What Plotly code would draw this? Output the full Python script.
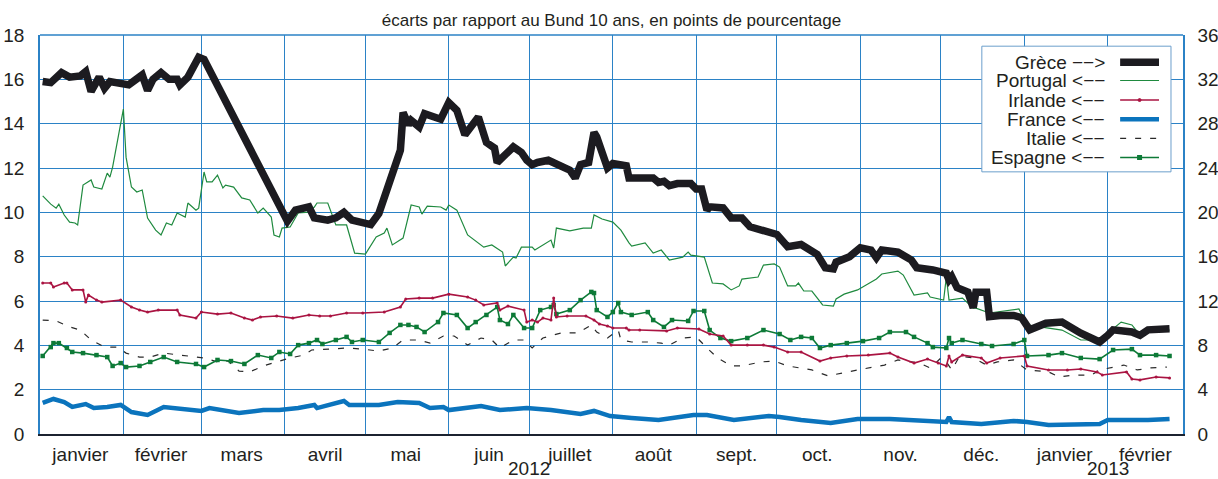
import pandas as pd
import plotly.graph_objects as go

# ---------------- data (days since 1 Jan 2012, spreads in percentage points) ----------------
START = pd.Timestamp("2012-01-01")

months = ["janvier", "février", "mars", "avril", "mai", "juin", "juillet", "août",
          "sept.", "oct.", "nov.", "déc.", "janvier", "février"]
month_mid = ["2012-01-16", "2012-02-15", "2012-03-16", "2012-04-16", "2012-05-16", "2012-06-16",
             "2012-07-16", "2012-08-16", "2012-09-16", "2012-10-16", "2012-11-16", "2012-12-16",
             "2013-01-16", "2013-02-15"]
years = ["2012", "2013"]
year_pos = ["2012-07-01", "2013-02-01"]

greece_day = [1, 4, 8, 11, 15, 17, 19, 22, 24, 26, 33, 38, 40, 42, 45, 48, 51, 52, 55, 59, 61,
              92, 95, 100, 102, 107, 110, 113, 116, 120, 123, 126, 128, 131, 134, 135, 137, 138, 141,
              143, 149, 152, 155, 158, 160, 163, 166, 169, 170, 172, 176, 179, 181, 183, 185, 189, 192,
              195, 197, 199, 201, 204, 206, 207, 209, 211, 213, 216, 218, 219, 224, 228, 230, 232, 234,
              237, 242, 244, 246, 248, 249, 254, 257, 261, 264, 269, 272, 274, 278, 283, 289, 292, 295,
              296, 301, 305, 309, 311, 313, 319, 324, 326, 332, 337, 338, 339, 341, 345, 347, 348, 352,
              353, 357, 362, 365, 368, 374, 380, 387, 394, 397, 399, 406, 409, 412, 420]
greece_val = [31.8, 31.7, 32.6, 32.2, 32.3, 32.7, 30.9, 32.2, 31.2, 31.8, 31.5, 32.4, 31.0, 32.0, 32.6,
              32.0, 32.0, 31.5, 32.2, 34.0, 33.8,
              19.2, 20.2, 20.5, 19.5, 19.3, 19.5, 20.0, 19.3, 19.0, 18.9, 19.9, 21.4, 23.2, 25.6, 29.0,
              27.9, 28.3, 27.7, 28.9, 28.4, 29.9, 29.2, 27.0, 27.7, 28.6, 26.3, 25.8, 24.5, 25.0, 25.9,
              25.4, 24.7, 24.3, 24.5, 24.7, 24.3, 23.9, 23.8, 23.1, 24.3, 24.5, 27.2, 26.8, 25.3, 24.0,
              24.4, 24.3, 24.2, 23.1, 23.1, 23.1, 22.7, 22.8, 22.4, 22.6, 22.6, 22.1, 22.1, 20.2, 20.5,
              20.4, 19.5, 19.5, 18.7, 18.4, 18.2, 18.0, 16.9, 17.1, 16.2, 15.0, 14.9, 15.5, 16.0, 16.8,
              16.6, 15.9, 16.6, 16.4, 15.7, 15.0, 14.8, 14.5, 13.9, 14.2, 13.2, 12.8, 11.4, 12.8, 12.8,
              10.6, 10.7, 10.7, 10.5, 9.4, 10.0, 10.1, 9.1, 8.3, 8.9, 9.4, 9.2, 8.9, 9.4, 9.5]

portugal_day = [1, 4, 6, 7, 9, 11, 13, 14, 16, 19, 20, 23, 25, 26, 27, 31, 32, 34, 36, 38, 40, 43, 45,
                47, 49, 51, 54, 55, 58, 59,
                61, 62, 64, 66, 68, 69, 72, 75, 78, 81, 83, 86, 87, 89, 90, 93, 96, 100, 102, 103, 107,
                109, 110, 114, 117, 121, 125, 128, 129, 131, 135, 138, 141, 142, 144, 149, 151, 152, 155,
                159, 160, 165, 168, 172, 173, 176, 177, 179, 183, 184, 190, 191, 192, 197, 202, 205, 206,
                209, 213, 216, 219, 220, 225, 228, 231, 234, 239, 241, 242, 247, 250, 254, 257, 260, 261,
                267, 269, 273, 275, 278, 281, 282, 284, 287, 291, 295, 296, 299, 304, 309, 311, 313, 319,
                321, 325, 330, 331, 336, 337, 338, 343, 347, 348, 353, 360, 364, 367, 375, 380, 387, 394,
                402, 406, 409, 414, 420]
portugal_val = [10.74, 10.37, 10.19, 10.37, 9.88, 9.56, 9.52, 9.43, 11.23, 11.46, 11.14, 11.05, 11.77,
                11.59, 12.04, 14.66, 12.49, 11.14, 10.92, 11.01, 9.74, 9.20, 8.98, 9.52, 9.43, 9.97,
                9.79, 10.42, 10.10, 10.19,
                11.82, 11.37, 11.37, 11.68, 11.10, 11.23, 11.14, 10.65, 10.56, 9.97, 10.19, 9.79, 8.98,
                8.89, 9.29, 9.34, 9.97, 10.01, 10.24, 10.42, 10.42, 9.79, 9.43, 9.43, 8.16, 8.12, 8.89,
                9.07, 9.29, 8.53, 8.84, 10.33, 10.24, 9.92, 10.28, 10.24, 10.10, 10.33, 10.10, 8.98, 8.89,
                8.43, 8.53, 8.21, 7.58, 7.98, 7.94, 8.43, 8.43, 8.30, 8.75, 8.39, 9.29, 9.16, 9.29, 9.29,
                9.88, 9.70, 9.56, 9.20, 8.62, 8.48, 8.62, 8.16, 8.30, 7.85, 7.98, 8.21, 8.07, 7.98, 6.81,
                6.77, 6.50, 6.68, 6.99, 7.08, 7.62, 7.67, 7.53, 6.68, 6.68, 6.81, 6.45, 6.45, 5.82, 5.77,
                6.09, 6.31, 6.50, 6.86, 6.99, 7.22, 7.35, 7.17, 6.27, 6.36, 6.18, 6.04, 7.08, 6.04, 6.13,
                5.68, 5.68, 5.46, 5.59, 5.64, 4.92, 4.78, 4.69, 4.24, 4.24, 5.05, 4.92, 4.47, 4.69, 4.69]

irlande_day = [1, 4, 5, 9, 10, 12, 16, 17, 18, 21, 23, 30, 34, 37, 40, 44, 51, 52, 58, 60, 66, 71, 76,
               79, 82, 88, 94, 100, 104, 108, 114, 120, 128, 134, 136, 141, 146, 152, 159, 162, 165, 170,
               171, 174, 180, 181, 183, 185, 187, 190, 191, 192, 196, 203, 206, 208, 211, 213, 218, 219,
               223, 233, 237, 245, 249, 254, 257, 263, 269, 273, 278, 283, 290, 294, 300, 308, 316, 319,
               325, 330, 334, 337, 338, 339, 343, 350, 352, 357, 366, 367, 375, 382, 387, 393, 395, 404,
               406, 409, 415, 420]
irlande_val = [6.81, 6.81, 6.63, 6.81, 6.81, 6.50, 6.50, 5.95, 6.27, 6.04, 5.95, 6.04, 5.73, 5.59, 5.50,
               5.59, 5.59, 5.37, 5.23, 5.50, 5.41, 5.46, 5.23, 5.14, 5.28, 5.32, 5.23, 5.37, 5.32, 5.32,
               5.46, 5.46, 5.50, 5.73, 6.09, 6.13, 6.13, 6.31, 6.18, 6.04, 5.82, 5.91, 5.59, 5.77, 5.59,
               5.05, 5.14, 5.05, 5.23, 5.14, 6.13, 5.28, 5.32, 5.32, 5.14, 4.96, 4.87, 4.78, 4.78, 4.69,
               4.69, 4.65, 4.78, 4.74, 4.51, 4.42, 4.01, 4.01, 4.01, 3.92, 3.70, 3.70, 3.29, 3.43, 3.52,
               3.56, 3.65, 3.47, 3.20, 3.38, 3.20, 3.07, 3.52, 3.25, 3.56, 3.43, 3.20, 3.43, 3.52, 3.07,
               2.89, 2.89, 2.93, 2.80, 2.66, 2.80, 2.48, 2.44, 2.57, 2.53]

france_day = [1, 5, 9, 12, 17, 20, 25, 30, 34, 40, 46, 52, 60, 63, 74, 83, 89, 96, 102, 103, 108, 113,
              115, 120, 126, 133, 141, 145, 150, 152, 164, 171, 181, 190, 201, 206, 212, 220, 230, 243,
              248, 258, 271, 275, 283, 294, 304, 316, 331, 337, 338, 339, 350, 362, 367, 375, 394, 397,
              412, 420]
france_val = [1.40, 1.58, 1.44, 1.22, 1.35, 1.17, 1.22, 1.31, 0.99, 0.86, 1.22, 1.13, 1.04, 1.17, 0.95,
              1.08, 1.08, 1.17, 1.31, 1.17, 1.31, 1.49, 1.31, 1.31, 1.31, 1.44, 1.40, 1.17, 1.22, 1.08,
              1.26, 1.08, 1.17, 1.08, 0.90, 1.04, 0.81, 0.72, 0.63, 0.86, 0.86, 0.63, 0.81, 0.77, 0.63,
              0.50, 0.68, 0.68, 0.59, 0.54, 0.77, 0.54, 0.45, 0.59, 0.54, 0.41, 0.45, 0.63, 0.63, 0.68]

italie_day = [1, 6, 11, 15, 19, 24, 29, 32, 37, 41, 46, 56, 61, 66, 70, 74, 78, 83, 88, 93, 98, 101, 108,
              114, 120, 126, 131, 135, 141, 145, 150, 154, 159, 164, 168, 171, 176, 180, 183, 187, 191,
              194, 200, 205, 207, 211, 215, 216, 220, 226, 231, 234, 239, 244, 248, 252, 257, 261, 268,
              273, 278, 283, 287, 293, 298, 304, 310, 314, 319, 322, 327, 331, 335, 337, 339, 342, 347,
              352, 356, 362, 367, 375, 379, 384, 391, 394, 399, 403, 408, 413, 419]
italie_val = [5.14, 5.10, 4.83, 4.69, 4.24, 3.92, 3.92, 3.65, 3.47, 3.47, 3.65, 3.52, 3.43, 3.25, 3.29,
              2.84, 2.80, 3.07, 3.25, 3.43, 3.56, 3.79, 3.83, 3.88, 3.83, 3.74, 3.88, 4.24, 4.24, 4.10,
              4.42, 4.42, 4.01, 4.33, 4.24, 3.88, 4.24, 4.24, 3.88, 4.33, 4.47, 4.56, 4.56, 4.92, 4.60,
              4.33, 4.69, 4.24, 4.15, 4.15, 4.10, 4.01, 4.33, 4.38, 3.88, 3.43, 3.07, 3.07, 3.25, 3.29,
              3.07, 2.98, 2.89, 2.62, 2.75, 2.89, 3.02, 3.11, 3.34, 3.29, 3.20, 2.98, 3.43, 3.25, 2.89,
              3.52, 3.43, 3.11, 3.25, 3.34, 2.89, 2.80, 2.57, 2.66, 2.66, 2.89, 3.02, 3.11, 2.89, 2.98,
              3.02]

espagne_day = [1, 4, 5, 7, 10, 12, 16, 21, 25, 27, 30, 32, 37, 41, 46, 51, 58, 61, 66, 71, 76, 81, 86,
               89, 93, 96, 100, 103, 105, 110, 114, 116, 120, 126, 130, 134, 137, 140, 143, 148, 150, 155,
               159, 162, 166, 170, 171, 174, 176, 180, 183, 186, 190, 191, 192, 197, 201, 205, 206, 207,
               211, 213, 215, 216, 220, 226, 228, 232, 235, 241, 243, 247, 249, 253, 257, 263, 269, 275,
               279, 283, 287, 290, 294, 300, 306, 312, 316, 322, 325, 330, 332, 337, 338, 339, 343, 350,
               354, 362, 366, 367, 375, 380, 387, 394, 399, 406, 409, 415, 420]
espagne_val = [3.52, 3.92, 4.10, 4.10, 3.88, 3.70, 3.65, 3.56, 3.47, 3.07, 3.20, 3.02, 3.07, 3.25, 3.47,
               3.25, 3.16, 3.02, 3.34, 3.29, 3.16, 3.56, 3.43, 3.70, 3.61, 4.01, 4.10, 4.24, 4.06, 4.24,
               4.38, 4.15, 4.24, 4.15, 4.56, 4.92, 4.92, 4.83, 4.60, 5.05, 5.46, 5.37, 4.78, 5.05, 5.37,
               5.73, 5.14, 4.96, 5.37, 4.78, 4.78, 5.59, 5.73, 5.82, 5.41, 5.59, 6.04, 6.41, 6.36, 5.59,
               5.28, 5.50, 5.91, 5.50, 5.37, 5.50, 5.14, 4.83, 5.14, 5.10, 5.55, 5.55, 4.69, 4.33, 4.19,
               4.33, 4.69, 4.51, 4.24, 4.38, 4.33, 3.88, 4.01, 4.10, 4.19, 4.33, 4.60, 4.60, 4.38, 4.10,
               3.92, 3.88, 4.33, 4.10, 4.24, 4.06, 3.97, 4.06, 4.24, 3.52, 3.56, 3.65, 3.43, 3.38, 3.79,
               3.83, 3.56, 3.56, 3.52]

legend_labels = ["Grèce \u2212\u2212>", "Portugal <\u2212\u2212", "Irlande <\u2212\u2212",
                 "France <\u2212\u2212", "Italie <\u2212\u2212", "Espagne <\u2212\u2212"]


def to_dates(days):
    return [START + pd.Timedelta(days=int(d)) for d in days]


# ---------------- styles ----------------
FONT = "Liberation Sans, Arial, sans-serif"
TXT = "#231f20"
GRID = "#2b82c6"
C_GRE = "#1c1b20"
C_POR = "#1f8a3f"
C_IRL = "#aa1442"
C_FRA = "#0b74bd"
C_ITA = "#2a2a2a"
C_ESP = "#0d7a37"
FS = 19

fig = go.Figure()

fig.add_trace(go.Scatter(x=to_dates(portugal_day), y=portugal_val, mode="lines",
                         line=dict(color=C_POR, width=1.2), name="Portugal"))
fig.add_trace(go.Scatter(x=to_dates(italie_day), y=italie_val, mode="lines",
                         line=dict(color=C_ITA, width=1.2, dash="6px,9px"), name="Italie"))
fig.add_trace(go.Scatter(x=to_dates(espagne_day), y=espagne_val, mode="lines+markers",
                         line=dict(color=C_ESP, width=1.6),
                         marker=dict(symbol="square", size=4.5, color=C_ESP), name="Espagne"))
fig.add_trace(go.Scatter(x=to_dates(irlande_day), y=irlande_val, mode="lines+markers",
                         line=dict(color=C_IRL, width=1.6),
                         marker=dict(symbol="circle", size=3, color=C_IRL), name="Irlande"))
fig.add_trace(go.Scatter(x=to_dates(france_day), y=france_val, mode="lines",
                         line=dict(color=C_FRA, width=4.5), name="France"))
fig.add_trace(go.Scatter(x=to_dates(greece_day), y=greece_val, mode="lines", yaxis="y2",
                         line=dict(color=C_GRE, width=7.5), name="Grèce"))

# ---------------- custom legend (symbol on the right of the text) ----------------
rows_y = [0.932, 0.886, 0.837, 0.789, 0.741, 0.693]
shapes = [
    dict(type="line", xref="paper", yref="paper", x0=0, x1=1, y0=1, y1=1,
         line=dict(color=GRID, width=1.5), layer="above"),
    dict(type="rect", xref="paper", yref="paper", x0=0.824, x1=0.9895, y0=0.657, y1=0.972,
         line=dict(color="#6c9fcc", width=1), fillcolor="white", layer="above"),
]
samples = [
    dict(color=C_GRE, width=7.5, dash="solid"),
    dict(color=C_POR, width=1.2, dash="solid"),
    dict(color=C_IRL, width=1.6, dash="solid"),
    dict(color=C_FRA, width=4.5, dash="solid"),
    dict(color=C_ITA, width=1.2, dash="6px,9px"),
    dict(color=C_ESP, width=1.6, dash="solid"),
]
annotations = []
for lab, yy, st in zip(legend_labels, rows_y, samples):
    annotations.append(dict(text=lab, xref="paper", yref="paper", x=0.9335, y=yy,
                            xanchor="right", yanchor="middle", showarrow=False,
                            font=dict(family=FONT, size=FS, color=TXT)))
    shapes.append(dict(type="line", xref="paper", yref="paper", x0=0.945, x1=0.979, y0=yy, y1=yy,
                       line=st, layer="above"))
shapes.append(dict(type="circle", xref="paper", yref="paper", xsizemode="pixel", ysizemode="pixel",
                   xanchor=0.962, yanchor=rows_y[2], x0=-1.5, x1=1.5, y0=-1.5, y1=1.5,
                   fillcolor=C_IRL, line=dict(color=C_IRL, width=1), layer="above"))
shapes.append(dict(type="rect", xref="paper", yref="paper", xsizemode="pixel", ysizemode="pixel",
                   xanchor=0.962, yanchor=rows_y[5], x0=-2.5, x1=2.5, y0=-2.5, y1=2.5,
                   fillcolor=C_ESP, line=dict(color=C_ESP, width=0), layer="above"))

for yr, pos in zip(years, year_pos):
    annotations.append(dict(text=yr, xref="x", yref="paper", x=pos, y=-0.117,
                            xanchor="center", yanchor="bottom", showarrow=False,
                            font=dict(family=FONT, size=FS, color=TXT)))

fig.update_layout(
    width=1218, height=479,
    margin=dict(l=40, r=35, t=35, b=45, autoexpand=False),
    paper_bgcolor="white", plot_bgcolor="white",
    showlegend=False,
    title=dict(text="écarts par rapport au Bund 10 ans, en points de pourcentage",
               x=0.5, xref="paper", y=1 - 20 / 479, yref="container",
               xanchor="center", yanchor="middle",
               font=dict(family=FONT, size=17, color=TXT)),
    xaxis=dict(type="date", range=[START, pd.Timestamp("2013-03-01")], automargin=False,
               tickmode="array", tickvals=month_mid, ticktext=months,
               ticks="", showgrid=False, zeroline=False,
               showline=True, linecolor="#1c2330", linewidth=2,
               tickfont=dict(family=FONT, size=FS, color=TXT), ticklabelstandoff=2,
               minor=dict(dtick="M1", tick0="2012-01-01", showgrid=True,
                          gridcolor=GRID, gridwidth=1, ticks="")),
    yaxis=dict(range=[0, 18], tickmode="linear", tick0=0, dtick=2, automargin=False,
               showgrid=True, gridcolor=GRID, gridwidth=1, zeroline=False,
               showline=True, linecolor=GRID, linewidth=1.5, ticks="",
               tickfont=dict(family=FONT, size=FS, color=TXT), ticklabelstandoff=10),
    yaxis2=dict(range=[0, 36], tickmode="linear", tick0=0, dtick=4, overlaying="y", side="right",
                automargin=False,
                showgrid=False, zeroline=False, showline=True, linecolor=GRID, linewidth=1.5,
                ticks="", tickfont=dict(family=FONT, size=FS, color=TXT), ticklabelstandoff=9),
    shapes=shapes,
    annotations=annotations,
)

fig.write_html("out.html", config={"displayModeBar": False},
               post_script="document.body.style.margin='0';")
